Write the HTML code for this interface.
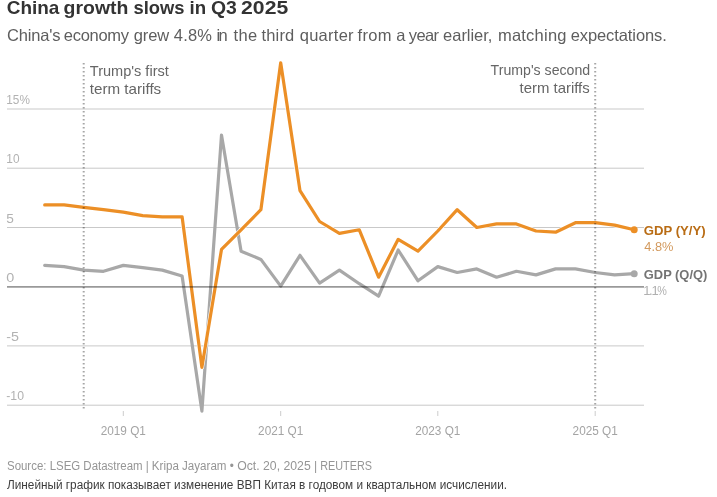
<!DOCTYPE html>
<html lang="en"><head><meta charset="utf-8"><title>China growth slows in Q3 2025</title>
<style>
html,body{margin:0;padding:0;background:#fff;}
body{width:717px;height:497px;overflow:hidden;font-family:"Liberation Sans", sans-serif;}
svg{display:block;font-family:"Liberation Sans", sans-serif;}
</style></head><body>
<svg width="717" height="497" viewBox="0 0 717 497">
<rect width="717" height="497" fill="#fff"/>
<text y="13.9" font-size="19" font-weight="700" fill="#333"><tspan x="6.7" textLength="52.7" lengthAdjust="spacingAndGlyphs">China</tspan> <tspan x="63.6" textLength="64.8" lengthAdjust="spacingAndGlyphs">growth</tspan> <tspan x="133.5" textLength="51.0" lengthAdjust="spacingAndGlyphs">slows</tspan> <tspan x="189.6" textLength="16.6" lengthAdjust="spacingAndGlyphs">in</tspan> <tspan x="210.9" textLength="25.9" lengthAdjust="spacingAndGlyphs">Q3</tspan> <tspan x="241.1" textLength="47.1" lengthAdjust="spacingAndGlyphs">2025</tspan></text>
<text y="40.9" font-size="16.5" fill="#5e5e5e"><tspan x="6.9" textLength="53.6" lengthAdjust="spacing">China's</tspan> <tspan x="63.8" textLength="65.2" lengthAdjust="spacing">economy</tspan> <tspan x="133.7" textLength="35.5" lengthAdjust="spacing">grew</tspan> <tspan x="173.8" textLength="38.1" lengthAdjust="spacing">4.8%</tspan> <tspan x="216.5" textLength="11.3" lengthAdjust="spacing">in</tspan> <tspan x="233.6" textLength="23.5" lengthAdjust="spacing">the</tspan> <tspan x="261.6" textLength="32.6" lengthAdjust="spacing">third</tspan> <tspan x="299.7" textLength="53.9" lengthAdjust="spacing">quarter</tspan> <tspan x="357.4" textLength="34.2" lengthAdjust="spacing">from</tspan> <tspan x="396.3" textLength="8.7" lengthAdjust="spacing">a</tspan> <tspan x="408.8" textLength="30.2" lengthAdjust="spacing">year</tspan> <tspan x="443.1" textLength="49.3" lengthAdjust="spacing">earlier,</tspan> <tspan x="497.9" textLength="68.6" lengthAdjust="spacing">matching</tspan> <tspan x="570.7" textLength="96.1" lengthAdjust="spacing">expectations.</tspan></text>
<line x1="7" x2="644" y1="109.0" y2="109.0" stroke="#c9c9c9" stroke-width="1"/>
<line x1="7" x2="644" y1="168.2" y2="168.2" stroke="#c9c9c9" stroke-width="1"/>
<line x1="7" x2="644" y1="227.5" y2="227.5" stroke="#c9c9c9" stroke-width="1"/>
<line x1="7" x2="644" y1="345.9" y2="345.9" stroke="#c9c9c9" stroke-width="1"/>
<line x1="7" x2="644" y1="405.2" y2="405.2" stroke="#c9c9c9" stroke-width="1"/>
<text x="6.3" y="104.1" font-size="13" fill="#b2b2b2" textLength="23.6" lengthAdjust="spacingAndGlyphs">15%</text>
<text x="6.3" y="163.3" font-size="13" fill="#b2b2b2" textLength="13.2" lengthAdjust="spacingAndGlyphs">10</text>
<text x="6.3" y="222.6" font-size="13" fill="#b2b2b2" textLength="7.6" lengthAdjust="spacingAndGlyphs">5</text>
<text x="6.3" y="281.8" font-size="13" fill="#b2b2b2" textLength="8.0" lengthAdjust="spacingAndGlyphs">0</text>
<text x="6.3" y="341.0" font-size="13" fill="#b2b2b2" textLength="12.7" lengthAdjust="spacingAndGlyphs">-5</text>
<text x="6.3" y="400.3" font-size="13" fill="#b2b2b2" textLength="17.7" lengthAdjust="spacingAndGlyphs">-10</text>
<line x1="123.3" x2="123.3" y1="411" y2="416" stroke="#ccc" stroke-width="1"/>
<text x="123.3" y="435" font-size="12.5" fill="#a4a4a4" text-anchor="middle" textLength="45.2" lengthAdjust="spacingAndGlyphs">2019 Q1</text>
<line x1="280.7" x2="280.7" y1="411" y2="416" stroke="#ccc" stroke-width="1"/>
<text x="280.7" y="435" font-size="12.5" fill="#a4a4a4" text-anchor="middle" textLength="45.2" lengthAdjust="spacingAndGlyphs">2021 Q1</text>
<line x1="437.8" x2="437.8" y1="411" y2="416" stroke="#ccc" stroke-width="1"/>
<text x="437.8" y="435" font-size="12.5" fill="#a4a4a4" text-anchor="middle" textLength="45.2" lengthAdjust="spacingAndGlyphs">2023 Q1</text>
<line x1="595.2" x2="595.2" y1="411" y2="416" stroke="#ccc" stroke-width="1"/>
<text x="595.2" y="435" font-size="12.5" fill="#a4a4a4" text-anchor="middle" textLength="45.2" lengthAdjust="spacingAndGlyphs">2025 Q1</text>
<text font-size="14.5" fill="#666"><tspan x="89.8" y="75.6" textLength="79" lengthAdjust="spacingAndGlyphs">Trump's first</tspan><tspan x="89.8" y="94.3" textLength="71.4" lengthAdjust="spacingAndGlyphs">term tariffs</tspan></text>
<text font-size="14.5" fill="#666"><tspan x="490.6" y="74.8" textLength="99.6" lengthAdjust="spacingAndGlyphs">Trump's second</tspan><tspan x="519.5" y="93.3" textLength="70.2" lengthAdjust="spacingAndGlyphs">term tariffs</tspan></text>
<path d="M44.7,265.4 L64.1,266.6 L83.7,270.1 L103.5,271.3 L123.3,265.4 L142.7,267.7 L162.3,270.1 L182.1,276.0 L201.9,411.1 L221.5,135.0 L241.1,251.2 L260.9,259.4 L280.7,286.1 L300.0,255.3 L319.6,283.1 L339.4,270.1 L359.3,283.7 L378.6,296.2 L398.2,250.0 L418.0,280.8 L437.8,266.6 L457.2,272.5 L476.8,268.9 L496.6,277.2 L516.4,271.3 L536.0,274.9 L555.6,268.9 L575.4,268.9 L595.2,272.5 L614.6,274.9 L634.2,273.7" fill="none" stroke="#a8a8a8" stroke-width="3.2" stroke-linejoin="round" stroke-linecap="round"/>
<circle cx="634.2" cy="273.7" r="3.5" fill="#a8a8a8"/>
<path d="M44.7,204.9 L64.1,204.9 L83.7,207.3 L103.5,209.7 L123.3,212.1 L142.7,215.6 L162.3,216.8 L182.1,216.8 L201.9,367.3 L221.5,249.4 L241.1,229.8 L260.9,209.7 L280.7,62.8 L300.0,190.7 L319.6,221.5 L339.4,233.4 L359.3,229.8 L378.6,277.2 L398.2,239.3 L418.0,251.2 L437.8,231.0 L457.2,209.7 L476.8,227.5 L496.6,223.9 L516.4,223.9 L536.0,231.0 L555.6,232.2 L575.4,222.7 L595.2,222.7 L614.6,225.1 L634.2,229.8" fill="none" stroke="#fff" stroke-width="4.3" stroke-linejoin="round" stroke-linecap="round"/>
<path d="M44.7,204.9 L64.1,204.9 L83.7,207.3 L103.5,209.7 L123.3,212.1 L142.7,215.6 L162.3,216.8 L182.1,216.8 L201.9,367.3 L221.5,249.4 L241.1,229.8 L260.9,209.7 L280.7,62.8 L300.0,190.7 L319.6,221.5 L339.4,233.4 L359.3,229.8 L378.6,277.2 L398.2,239.3 L418.0,251.2 L437.8,231.0 L457.2,209.7 L476.8,227.5 L496.6,223.9 L516.4,223.9 L536.0,231.0 L555.6,232.2 L575.4,222.7 L595.2,222.7 L614.6,225.1 L634.2,229.8" fill="none" stroke="#ec8f26" stroke-width="3.2" stroke-linejoin="round" stroke-linecap="round"/>
<circle cx="634.2" cy="229.8" r="3.5" fill="#ec8f26"/>
<line x1="7" x2="644" y1="286.9" y2="286.9" stroke="#000" stroke-opacity="0.4" stroke-width="1.9"/>
<line x1="83.7" x2="83.7" y1="62.9" y2="411" stroke="#000" stroke-opacity="0.35" stroke-width="2" stroke-dasharray="1.5 2.5"/>
<line x1="595.2" x2="595.2" y1="62.9" y2="411" stroke="#000" stroke-opacity="0.35" stroke-width="2" stroke-dasharray="1.5 2.5"/>
<text x="643.8" y="235" font-size="12.5" font-weight="700" fill="#b96c14" textLength="61.8" lengthAdjust="spacingAndGlyphs">GDP (Y/Y)</text>
<text x="644.3" y="250.6" font-size="12" fill="#d39a5e" textLength="29.2" lengthAdjust="spacingAndGlyphs">4.8%</text>
<text x="643.8" y="278.8" font-size="12.5" font-weight="700" fill="#747474" textLength="63.5" lengthAdjust="spacingAndGlyphs">GDP (Q/Q)</text>
<text y="294.9" font-size="13" fill="#b0b0b0"><tspan x="643.3">1</tspan><tspan x="648.9">.</tspan><tspan x="651.4">1</tspan></text>
<text x="657.3" y="294.9" font-size="13" fill="#b0b0b0" textLength="9.6" lengthAdjust="spacingAndGlyphs">%</text>
<text x="7" y="470" font-size="12" fill="#959595" textLength="141.7" lengthAdjust="spacingAndGlyphs">Source: LSEG Datastream |</text>
<text x="151.8" y="470" font-size="12" fill="#959595" textLength="82" lengthAdjust="spacingAndGlyphs">Kripa Jayaram •</text>
<text x="237.2" y="470" font-size="12" fill="#959595" textLength="80.1" lengthAdjust="spacingAndGlyphs">Oct. 20, 2025 |</text>
<text x="320.2" y="470" font-size="12" fill="#959595" textLength="51.8" lengthAdjust="spacingAndGlyphs">REUTERS</text>
<text x="7" y="488.8" font-size="12" fill="#3c3c3c" textLength="500" lengthAdjust="spacingAndGlyphs">Линейный график показывает изменение ВВП Китая в годовом и квартальном исчислении.</text>
</svg></body></html>
